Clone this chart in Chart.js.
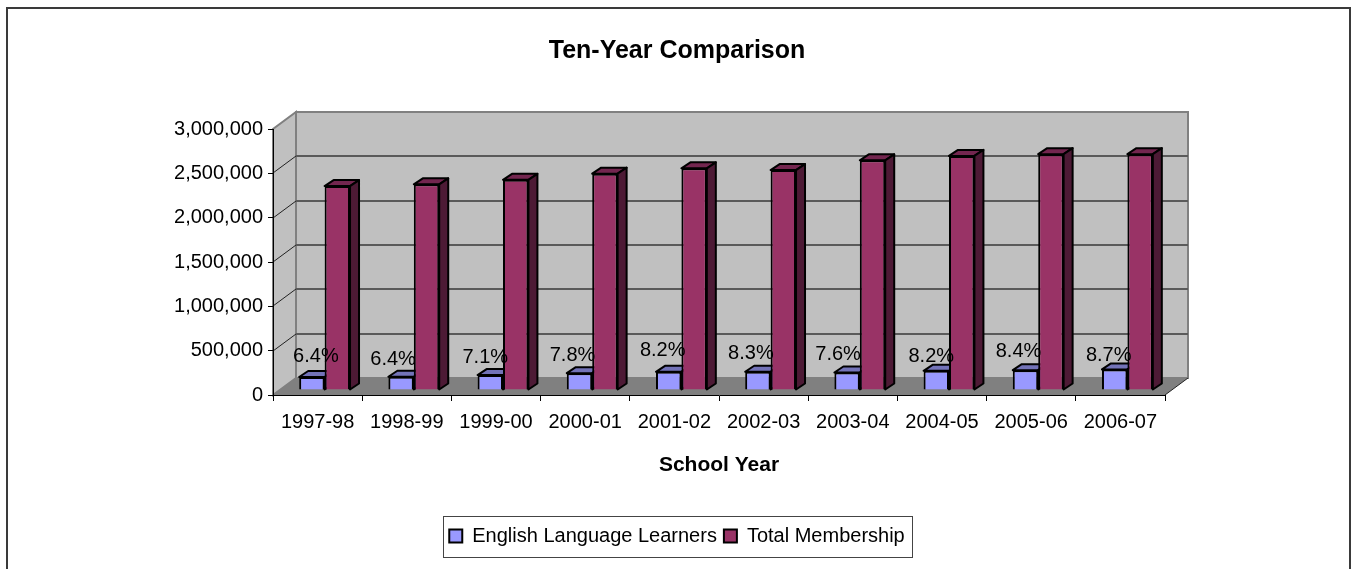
<!DOCTYPE html>
<html>
<head>
<meta charset="utf-8">
<title>Ten-Year Comparison</title>
<script src="https://cdn.jsdelivr.net/npm/chart.js@4"></script>
<style>
    html, body { margin: 0; padding: 0; background: #fff; }
    #wrap { position: relative; width: 1354px; height: 569px; overflow: hidden; }
    canvas { display: block; }
</style>
</head>
<body>
<div id="wrap"><canvas id="chart" width="1354" height="569"></canvas></div>
<script>
// Values
const schoolYears = ['1997-98', '1998-99', '1999-00', '2000-01', '2001-02', '2002-03', '2003-04', '2004-05', '2005-06', '2006-07'];
const englishLearners = [147000, 149000, 168000, 190000, 205000, 206000, 197000, 216000, 224000, 232000];
const totalMembership = [2300000, 2320000, 2370000, 2440000, 2500000, 2480000, 2590000, 2640000, 2660000, 2660000];
const shareLabels = ['6.4%', '6.4%', '7.1%', '7.8%', '8.2%', '8.3%', '7.6%', '8.2%', '8.4%', '8.7%'];

const FONT = "'Liberation Sans', Arial, sans-serif";

// The picture is a fake 3D chart: walls behind the axes, bars pushed a bit into the floor
const WALL_DX = 23, WALL_DY = 17;
const BAR_DX = 7, BAR_DY = 5;
const SIDE_DX = 9, SIDE_DY = 6;

// Hand placed label nudges, the original has them dragged around
const labelNudgeX = [4, -8, -5, -7, -6, -7, -9, -5, -7, -6];
const labelNudgeY = [-5, -2, -3, -3, -6, -3, -3, 1, -4, 1];

function poly(ctx, pts, fill, stroke, lineWidth) {
    ctx.beginPath();
    pts.forEach((p, i) => i ? ctx.lineTo(p[0], p[1]) : ctx.moveTo(p[0], p[1]));
    ctx.closePath();
    if (fill) { ctx.fillStyle = fill; ctx.fill(); }
    if (stroke) { ctx.strokeStyle = stroke; ctx.lineWidth = lineWidth || 1; ctx.stroke(); }
}

const wallsPlugin = {
    id: 'walls',
    beforeDraw(chart) {
        const { ctx, chartArea: a, scales: { y } } = chart;
        const right = a.right, left = a.left, top = a.top, bottom = a.bottom;
        ctx.save();
        // outer frame
        ctx.strokeStyle = '#3a3a3a';
        ctx.lineWidth = 2;
        ctx.strokeRect(7, 8, 1343, 570);
        // side wall, back wall, floor
        poly(ctx, [[left, bottom], [left + WALL_DX, bottom - WALL_DY], [left + WALL_DX, top - WALL_DY], [left, top]], '#c0c0c0', '#808080', 2);
        poly(ctx, [[left + WALL_DX, top - WALL_DY], [right + WALL_DX, top - WALL_DY], [right + WALL_DX, bottom - WALL_DY], [left + WALL_DX, bottom - WALL_DY]], '#c0c0c0', '#808080', 2);
        poly(ctx, [[left, bottom], [right, bottom], [right + WALL_DX, bottom - WALL_DY], [left + WALL_DX, bottom - WALL_DY]], '#808080');
        // gridlines, running along both walls
        y.ticks.forEach(t => {
            if (t.value === 0 || t.value === y.max) return;
            const py = Math.round(y.getPixelForValue(t.value));
            ctx.beginPath();
            ctx.moveTo(left, py);
            ctx.lineTo(left + WALL_DX, py - WALL_DY);
            ctx.strokeStyle = '#222';
            ctx.lineWidth = 1;
            ctx.stroke();
            ctx.beginPath();
            ctx.moveTo(left + WALL_DX, py - WALL_DY);
            ctx.lineTo(right + WALL_DX, py - WALL_DY);
            ctx.strokeStyle = '#5a5a5a';
            ctx.lineWidth = 2;
            ctx.stroke();
        });
        // front edge of the floor, left over from the right corner
        ctx.beginPath();
        ctx.moveTo(right, bottom);
        ctx.lineTo(right + WALL_DX, bottom - WALL_DY);
        ctx.strokeStyle = '#222';
        ctx.lineWidth = 1;
        ctx.stroke();
        ctx.restore();
    },
    beforeDatasetsDraw(chart) {
        const { ctx } = chart;
        const shades = [
            { top: '#7373b8', side: '#4c4c80' },
            { top: '#73264f', side: '#4d1a35' }
        ];
        ctx.save();
        ctx.translate(BAR_DX, -BAR_DY);
        ctx.lineJoin = 'round';
        [0, 1].forEach(d => {
            chart.getDatasetMeta(d).data.forEach(bar => {
                const l = bar.x - bar.width / 2, r = bar.x + bar.width / 2;
                poly(ctx, [[l, bar.y], [l + SIDE_DX, bar.y - SIDE_DY], [r + SIDE_DX, bar.y - SIDE_DY], [r, bar.y]], shades[d].top, '#000', 2);
                poly(ctx, [[r, bar.y], [r + SIDE_DX, bar.y - SIDE_DY], [r + SIDE_DX, bar.base - SIDE_DY], [r, bar.base]], shades[d].side, '#000', 2);
            });
        });
        // the front faces are drawn by Chart.js right after, shifted the same way
    },
    afterDatasetsDraw(chart) {
        const { ctx } = chart;
        ctx.restore();
        // percent labels sit over the bars
        ctx.save();
        ctx.font = '20px ' + FONT;
        ctx.fillStyle = '#000';
        ctx.textAlign = 'center';
        ctx.textBaseline = 'middle';
        chart.getDatasetMeta(0).data.forEach((bar, i) => {
            ctx.fillText(shareLabels[i], bar.x + BAR_DX + labelNudgeX[i], bar.y - 20 + labelNudgeY[i]);
        });
        ctx.restore();
    },
    afterDraw(chart) {
        // Chart.js has no border for the legend
        const { ctx } = chart;
        ctx.save();
        ctx.strokeStyle = '#444';
        ctx.lineWidth = 1;
        ctx.strokeRect(443.5, 516.5, 469, 41);
        ctx.restore();
    }
};

new Chart(document.getElementById('chart'), {
    type: 'bar',
    plugins: [wallsPlugin],
    data: {
        labels: schoolYears,
        datasets: [
            {
                label: 'English Language Learners',
                data: englishLearners,
                backgroundColor: '#9999ff',
                borderColor: '#000',
                borderWidth: 2
            },
            {
                label: 'Total Membership',
                data: totalMembership,
                backgroundColor: '#993366',
                borderColor: '#000',
                borderWidth: 2
            }
        ]
    },
    options: {
        responsive: false,
        animation: false,
        categoryPercentage: 0.57,
        barPercentage: 1,
        layout: { padding: { left: 0, right: 0, top: 0, bottom: 13 } },
        plugins: {
            tooltip: { enabled: false },
            title: {
                display: true,
                text: 'Ten-Year Comparison',
                color: '#000',
                font: { family: FONT, size: 25, weight: 'bold' },
                padding: { top: 36, bottom: 63 }
            },
            legend: {
                position: 'bottom',
                labels: {
                    color: '#000',
                    font: { family: FONT, size: 20 },
                    boxWidth: 13,
                    boxHeight: 13,
                    padding: 7
                }
            }
        },
        scales: {
            x: {
                afterFit(scale) { scale.height = 124; },
                border: { color: '#000' },
                grid: { drawOnChartArea: false, color: '#000', tickLength: 6 },
                ticks: { color: '#000', font: { family: FONT, size: 20 }, maxRotation: 0, autoSkip: false, padding: 9 },
                title: {
                    display: true,
                    text: 'School Year',
                    color: '#000',
                    font: { family: FONT, size: 21, weight: 'bold' },
                    padding: { top: 15, bottom: 41 }
                }
            },
            y: {
                min: 0,
                max: 3000000,
                afterFit(scale) { scale.width = 273; },
                border: { color: '#000' },
                grid: { drawOnChartArea: false, color: '#000', tickLength: 5 },
                ticks: {
                    stepSize: 500000,
                    color: '#000',
                    font: { family: FONT, size: 20 },
                    padding: 5,
                    callback: v => v.toLocaleString('en-US')
                }
            },
            // empty axis, only there to keep the right margin without moving title and legend off centre
            spacer: {
                position: 'right',
                afterFit(scale) { scale.width = 189; },
                grid: { display: false },
                border: { display: false },
                ticks: { display: false }
            }
        }
    }
});
</script>
</body>
</html>
